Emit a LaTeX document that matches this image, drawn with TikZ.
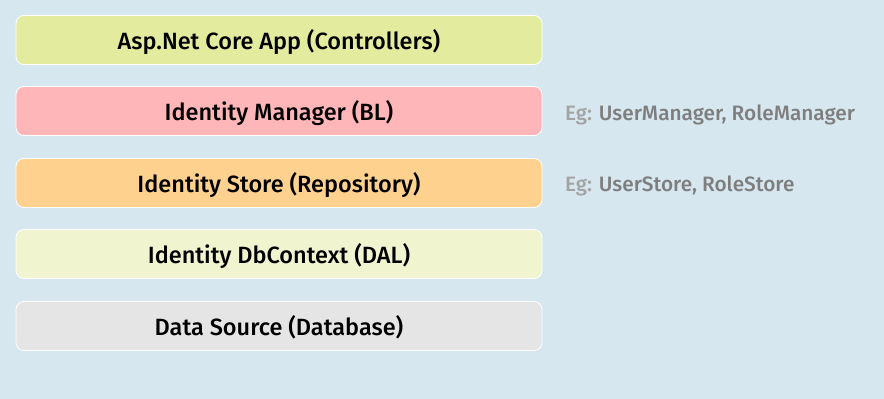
\documentclass[tikz,border=0pt]{standalone}
\usepackage{fontspec}
\setmainfont{Fira Sans}[UprightFont={* Medium}]
\definecolor{bgblue}{HTML}{D6E7F0}
\definecolor{appc}{HTML}{E3EB9E}
\definecolor{blc}{HTML}{FFB6B8}
\definecolor{repoc}{HTML}{FFD18F}
\definecolor{dalc}{HTML}{F0F5D0}
\definecolor{dbc}{HTML}{E5E5E5}
\definecolor{noteLight}{HTML}{A3A3A3}
\definecolor{noteDark}{HTML}{7E7E7E}
\begin{document}
\begin{tikzpicture}[x=1pt,y=-1pt,
  layer/.style={draw=white, line width=0.8pt, rounded corners=8pt,
    minimum width=526pt, minimum height=49pt, inner sep=0pt,
    text height=19.5pt, text depth=0pt,
    font=\fontsize{23.5}{27}\selectfont, text=black},
  note/.style={anchor=west, inner sep=0pt, font=\fontsize{20.8}{24}\selectfont}]
  \fill[bgblue] (0,0) rectangle (884,399);
  \useasboundingbox (0,0) rectangle (884,399);
  \node[layer, fill=appc]  (app)  at (279,40)  {Asp.Net Core App (Controllers)};
  \node[layer, fill=blc]   (bl)   at (279,111) {Identity Manager (BL)};
  \node[layer, fill=repoc] (repo) at (279,183) {Identity Store (Repository)};
  \node[layer, fill=dalc]  (dal)  at (279,254) {Identity DbContext (DAL)};
  \node[layer, fill=dbc]   (db)   at (279,326) {Data Source (Database)};
  \node[note] (blnote)   at (565,115) {\textcolor{noteLight}{Eg:} \textcolor{noteDark}{UserManager, RoleManager}};
  \node[note] (reponote) at (565,186) {\textcolor{noteLight}{Eg:} \textcolor{noteDark}{UserStore, RoleStore}};
\end{tikzpicture}
\end{document}
